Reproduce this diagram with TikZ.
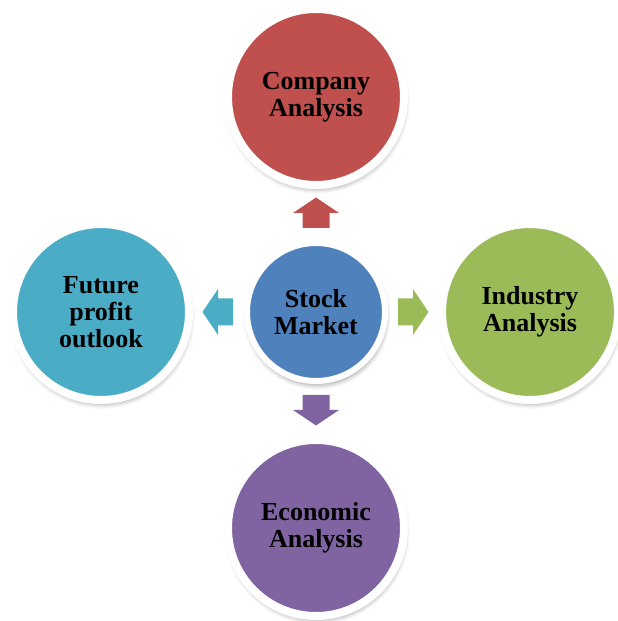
\documentclass[tikz,border=0pt]{standalone}
\usepackage{fontspec}
\setmainfont{Liberation Serif}
\usetikzlibrary{shadows.blur}
\definecolor{cred}{HTML}{C0504D}
\definecolor{cblue}{HTML}{4F81BD}
\definecolor{cgreen}{HTML}{9BBB59}
\definecolor{cpurple}{HTML}{8064A2}
\definecolor{caqua}{HTML}{4BACC6}
\tikzset{
  bubble/.style={circle, inner sep=0pt, minimum size=176pt, draw=white, line width=8pt,
    align=center, font=\bfseries\fontsize{26}{27}\selectfont,
    blur shadow={shadow xshift=1pt, shadow yshift=-4pt, shadow blur radius=5pt, shadow opacity=40}},
  hub/.style={bubble, minimum size=138pt, line width=6pt},
  blockarrow/.pic={\fill[pic actions] (-15,-13.5) -- (-15,13.5) -- (0,13.5) -- (0,23) -- (15.5,0) -- (0,-23) -- (0,-13.5) -- cycle;}
}
\begin{document}
\begin{tikzpicture}[x=1pt,y=1pt]
\useasboundingbox (0,0) rectangle (618,621);
% outer topics
\node[bubble, fill=cred]    (company)  at (316,524) {Company\\Analysis};
\node[bubble, fill=cgreen]  (industry) at (530,309) {Industry\\Analysis};
\node[bubble, fill=cpurple] (economic) at (316,93)  {Economic\\Analysis};
\node[bubble, fill=caqua]   (future)   at (101,309) {Future\\profit\\outlook};
% central hub
\node[hub, fill=cblue] (stock) at (316,309) {Stock\\Market};
% block arrows from the hub
\pic[fill=cred]    at (316,408) [rotate=90]  {blockarrow};
\pic[fill=cgreen]  at (413,309)              {blockarrow};
\pic[fill=cpurple] at (316,211) [rotate=-90] {blockarrow};
\pic[fill=caqua]   at (218,309) [rotate=180] {blockarrow};
\end{tikzpicture}
\end{document}
